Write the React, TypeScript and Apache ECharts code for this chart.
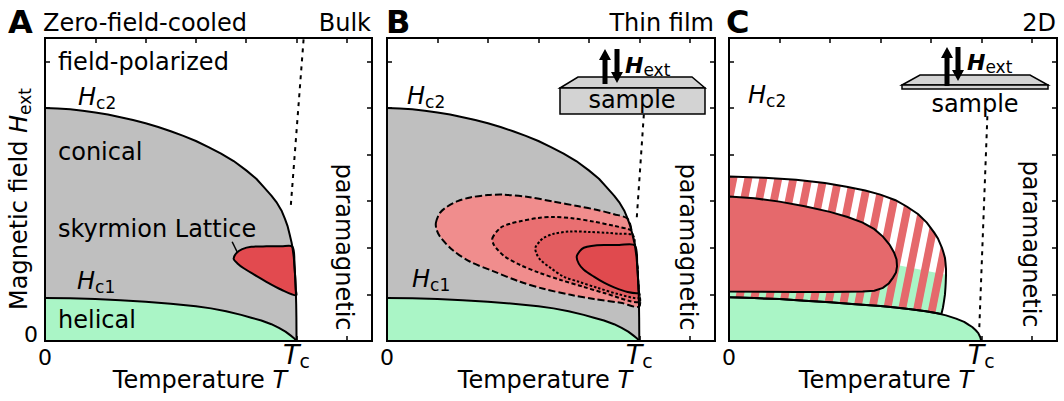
import React, { useEffect, useRef } from "react";
import * as echarts from "echarts";

type Pt = [number, number];

// Reduced units: temperature T with T_c = 5, applied field H on the same scale.
const T_C = 5;
const AXIS_MAX = 6.5;

// Upper critical field H_c2 (bulk and thin film).
const HC2: Pt[] = [
  [0, 5.0], [0.25, 4.99], [0.5, 4.97], [0.75, 4.94], [1, 4.9], [1.25, 4.86], [1.5, 4.8],
  [1.75, 4.74], [2, 4.67], [2.25, 4.59], [2.5, 4.5], [2.75, 4.4], [3, 4.29], [3.25, 4.16],
  [3.5, 4.02], [3.75, 3.86], [4, 3.66], [4.2, 3.48], [4.35, 3.3], [4.5, 3.12], [4.6, 2.98],
  [4.7, 2.8], [4.77, 2.62], [4.82, 2.47], [4.86, 2.3], [4.9, 2.12], [4.92, 2.0],
  [4.945, 1.8], [4.96, 1.6], [4.975, 1.35], [4.985, 1.1], [4.993, 0.8], [4.997, 0.5], [5, 0],
];

// Lower critical field H_c1 (bulk and thin film).
const HC1: Pt[] = [
  [0, 0.92], [0.5, 0.915], [1, 0.9], [1.5, 0.875], [2, 0.84], [2.5, 0.8], [3, 0.745],
  [3.3, 0.7], [3.6, 0.64], [3.9, 0.56], [4.1, 0.5], [4.3, 0.44], [4.5, 0.36], [4.65, 0.28],
  [4.78, 0.2], [4.88, 0.12], [4.95, 0.06], [5, 0],
];

// Skyrmion lattice pocket of the bulk sample.
const SKX_BULK: Pt[] = [
  [3.75, 1.76], [3.8, 1.88], [3.92, 1.97], [4.1, 2.02], [4.4, 2.03], [4.7, 2.03],
  [4.92, 2.02], [4.96, 1.6], [4.985, 1.1], [4.99, 0.98], [4.7, 1.1], [4.4, 1.27],
  [4.15, 1.43], [3.95, 1.56], [3.82, 1.67],
];

// Nested skyrmion stability contours of the thin film, outermost first.
const FILM_SKX_1: Pt[] = [
  [0.97, 2.54], [1.05, 2.75], [1.19, 2.88], [1.4, 3.0], [1.65, 3.08], [2.0, 3.13],
  [2.31, 3.14], [2.8, 3.09], [3.3, 2.99], [3.8, 2.89], [4.17, 2.81], [4.5, 2.72],
  [4.77, 2.62], [4.86, 2.3], [4.92, 2.0], [4.96, 1.6], [4.985, 1.1], [4.997, 0.74],
  [4.63, 0.82], [4.1, 0.9], [3.64, 0.99], [3.1, 1.12], [2.64, 1.27], [2.1, 1.5],
  [1.65, 1.7], [1.3, 1.95], [1.05, 2.24], [0.98, 2.4],
];
const FILM_SKX_2: Pt[] = [
  [2.09, 2.21], [2.25, 2.43], [2.45, 2.52], [2.64, 2.57], [3.0, 2.64], [3.3, 2.66],
  [3.7, 2.63], [4.1, 2.56], [4.5, 2.47], [4.83, 2.38], [4.86, 2.3], [4.92, 2.0],
  [4.96, 1.6], [4.985, 1.1], [4.997, 0.83], [4.3, 1.03], [3.9, 1.16], [3.44, 1.31],
  [3.0, 1.47], [2.64, 1.63], [2.35, 1.8], [2.19, 1.96], [2.11, 2.08],
];
const FILM_SKX_3: Pt[] = [
  [2.94, 2.0], [3.02, 2.13], [3.1, 2.21], [3.3, 2.3], [3.64, 2.35], [4.0, 2.34],
  [4.37, 2.32], [4.6, 2.3], [4.87, 2.27], [4.92, 2.0], [4.96, 1.6], [4.985, 1.1],
  [4.995, 0.92], [4.6, 1.0], [4.17, 1.14], [3.8, 1.27], [3.5, 1.38], [3.25, 1.56],
  [3.04, 1.74], [2.96, 1.88],
];
const FILM_SKX_4: Pt[] = [
  [3.76, 1.81], [3.82, 1.93], [3.9, 2.0], [4.05, 2.04], [4.3, 2.06], [4.6, 2.06],
  [4.91, 2.05], [4.96, 1.6], [4.985, 1.1], [4.99, 1.03], [4.77, 1.05], [4.5, 1.15],
  [4.3, 1.25], [4.1, 1.38], [3.9, 1.53], [3.8, 1.66],
];

// Two-dimensional system.
const HC1_2D: Pt[] = [
  [0, 0.94], [0.5, 0.92], [1, 0.9], [1.5, 0.865], [2, 0.83], [2.5, 0.79], [3, 0.75],
  [3.3, 0.72], [3.6, 0.68], [3.9, 0.64], [4.1, 0.6], [4.3, 0.55], [4.5, 0.48],
  [4.66, 0.41], [4.76, 0.34], [4.82, 0.3], [4.89, 0.23], [4.94, 0.17], [4.98, 0.08], [5, 0],
];
// Mixed (striped) region between H_c1 and its upper edge.
const MIXED_2D: Pt[] = [
  [0, 3.53], [0.7, 3.5], [1.33, 3.46], [1.9, 3.39], [2.33, 3.31], [2.7, 3.23],
  [3.0, 3.14], [3.3, 3.02], [3.53, 2.88], [3.75, 2.72], [3.92, 2.54], [4.07, 2.32],
  [4.14, 2.2], [4.18, 2.1], [4.22, 2.0], [4.25, 1.9], [4.28, 1.78], [4.29, 1.68],
  [4.3, 1.55], [4.3, 1.4], [4.295, 1.25], [4.29, 1.15], [4.28, 1.0], [4.26, 0.85],
  [4.24, 0.72], [4.21, 0.58], [4.1, 0.6], [3.9, 0.64], [3.6, 0.68], [3.3, 0.72],
  [3, 0.75], [2.5, 0.79], [2, 0.83], [1.5, 0.865], [1, 0.9], [0.5, 0.92], [0, 0.94],
];
// Helical background underneath the lower part of the stripes.
const MIXED_2D_HELICAL: Pt[] = [
  [0, 1.63], [3.33, 1.63], [4.3, 1.42], [4.295, 1.25], [4.29, 1.15], [4.28, 1.0],
  [4.26, 0.85], [4.24, 0.72], [4.21, 0.58], [4.1, 0.6], [3.6, 0.68], [3, 0.75],
  [2, 0.83], [1, 0.9], [0, 0.94],
];
const SKX_2D: Pt[] = [
  [0, 3.1], [0.5, 3.06], [1, 2.99], [1.5, 2.89], [2, 2.77], [2.35, 2.66], [2.65, 2.54],
  [2.88, 2.4], [3.05, 2.24], [3.18, 2.07], [3.27, 1.9], [3.32, 1.75], [3.33, 1.6],
  [3.31, 1.47], [3.25, 1.36], [3.17, 1.24], [3.05, 1.14], [2.88, 1.08], [2.65, 1.06],
  [2, 1.05], [1.33, 1.05], [0, 1.06],
];

// Dotted crossover lines to the paramagnet.
const CROSSOVER_BULK: Pt[] = [[5.14, 6.47], [4.88, 2.82]];
const CROSSOVER_FILM: Pt[] = [[5.09, 4.86], [4.95, 2.65]];
const CROSSOVER_2D: Pt[] = [[5.12, 4.82], [4.96, 0.28]];
// Leader line from the skyrmion label to its pocket.
const SKX_POINTER: Pt[] = [[3.72, 2.13], [3.82, 1.91]];

const FONT = '"DejaVu Sans", sans-serif';
const GREY = "#bfbfbf";
const GREEN = "#aaf5c6";
const RED_BULK = "#e24a4f";
const RED_2D = "#e5696c";
const FILM_REDS = ["#f08d8d", "#e96f71", "#e35d60", "#e04a4e"];
const SAMPLE_FILL = "#d3d3d3";

const GRIDS = [
  { left: 45, top: 38, width: 327, height: 303 },
  { left: 387, top: 38, width: 328, height: 303 },
  { left: 729, top: 38, width: 328, height: 303 },
];

function stripeImage(color: string) {
  const w = 15;
  const h = 75;
  const band = 8;
  const c = document.createElement("canvas");
  c.width = w;
  c.height = h;
  const ctx = c.getContext("2d")!;
  ctx.fillStyle = color;
  for (const off of [-w, 0, w]) {
    ctx.beginPath();
    ctx.moveTo(off + w, 0);
    ctx.lineTo(off + w + band, 0);
    ctx.lineTo(off + band, h);
    ctx.lineTo(off, h);
    ctx.closePath();
    ctx.fill();
  }
  return c.toDataURL();
}

const onGrid = (g: number) => ({ xAxisIndex: 2 * g, yAxisIndex: 2 * g });

function areaUnder(g: number, pts: Pt[], color: string, z: number) {
  return {
    type: "line", ...onGrid(g), data: pts, symbol: "none", silent: true, z,
    lineStyle: { width: 0, opacity: 0 },
    areaStyle: { color, opacity: 1 },
  };
}

function curve(g: number, pts: Pt[], z: number, width = 2, type: any = "solid") {
  return {
    type: "line", ...onGrid(g), data: pts, symbol: "none", silent: true, z,
    lineStyle: { color: "#000", width, type },
  };
}

function region(g: number, pts: Pt[], style: any, z: number, smooth = 0) {
  return {
    type: "custom", ...onGrid(g), data: pts, silent: true, z,
    renderItem: (params: any, api: any) =>
      params.dataIndex === 0
        ? { type: "polygon", shape: { points: pts.map((p) => api.coord(p)), smooth }, style }
        : null,
  };
}

function label(x: number, y: number, text: string, opts: any = {}) {
  const { size = 24, align = "left", rotation = 0, weight = "normal", rich } = opts;
  return {
    type: "text", x, y, rotation, z: 60, silent: true,
    style: {
      text, fontSize: size, fontFamily: FONT, fontWeight: weight, fill: "#000",
      align, verticalAlign: "middle", textAlign: align, textVerticalAlign: "middle", rich,
    },
  };
}

const SUB_RICH = {
  m: { fontSize: 24, fontFamily: FONT, fontStyle: "italic", fill: "#000", padding: [0, 0, 2, 0], verticalAlign: "bottom" },
  s: { fontSize: 17, fontFamily: FONT, fill: "#000", verticalAlign: "bottom" },
  a: { fontSize: 24, fontFamily: FONT, fill: "#000", padding: [0, 0, 2, 0], verticalAlign: "bottom" },
  b: { fontSize: 22, fontFamily: FONT, fontStyle: "italic", fontWeight: "bold", fill: "#000", padding: [0, 0, 2, 0], verticalAlign: "bottom" },
};

const field = (x: number, y: number, sub: string) => label(x, y, `{m|H}{s|${sub}}`, { rich: SUB_RICH });
const hExt = (x: number, y: number) => label(x, y, "{b|H}{s|ext}", { rich: SUB_RICH });

function arrow(x: number, yTail: number, yTip: number) {
  const d = yTip < yTail ? -1 : 1;
  const yBase = yTip - d * 11;
  return {
    type: "polygon", z: 58, silent: true,
    shape: {
      points: [
        [x - 2.5, yTail], [x - 2.5, yBase], [x - 6, yBase], [x, yTip],
        [x + 6, yBase], [x + 2.5, yBase], [x + 2.5, yTail],
      ],
    },
    style: { fill: "#000" },
  };
}

function buildOption() {
  const xAxis: any[] = [];
  const yAxis: any[] = [];
  GRIDS.forEach((_, g) => {
    const common = {
      type: "value", gridIndex: g, min: 0, max: AXIS_MAX, interval: 1,
      splitLine: { show: false },
      axisLine: { show: false, onZero: false },
      axisTick: { show: true, inside: true, length: 5, lineStyle: { color: "#000", width: 1.5 } },
    };
    xAxis.push({
      ...common, position: "bottom",
      axisLabel: {
        margin: 0,
        formatter: (v: number) => (v === 0 ? "{n|0}" : v === T_C ? "{t|T}{c|c}" : ""),
        rich: {
          n: { fontSize: 22, fontFamily: FONT, color: "#000", padding: [5, 0, 0, 0], verticalAlign: "bottom" },
          t: { fontSize: 27, fontFamily: FONT, fontStyle: "italic", color: "#000", padding: [0, 0, 2, 0], verticalAlign: "bottom" },
          c: { fontSize: 19, fontFamily: FONT, color: "#000", verticalAlign: "bottom" },
        },
      },
    });
    xAxis.push({ ...common, position: "top", axisLabel: { show: false } });
    yAxis.push({
      ...common, position: "left",
      axisLabel: g === 0
        ? {
            margin: 7,
            formatter: (v: number) => (v === 0 ? "{n|0}" : ""),
            rich: { n: { fontSize: 22, fontFamily: FONT, color: "#000", padding: [0, 0, 14, 0] } },
          }
        : { show: false },
    });
    yAxis.push({ ...common, position: "right", axisLabel: { show: false } });
  });

  const stripes = { image: stripeImage(RED_2D), repeat: "repeat", imageWidth: 15, imageHeight: 75 };
  const dotted = [4, 5];

  const series: any[] = [
    // Bulk
    areaUnder(0, HC2, GREY, 1),
    areaUnder(0, HC1, GREEN, 2),
    region(0, SKX_BULK, { fill: RED_BULK, stroke: "#000", lineWidth: 2 }, 3, 0.3),
    curve(0, HC2, 8),
    curve(0, HC1, 8),
    curve(0, CROSSOVER_BULK, 8, 2, dotted),
    curve(0, SKX_POINTER, 8, 1.5),
    // Thin film
    areaUnder(1, HC2, GREY, 1),
    areaUnder(1, HC1, GREEN, 2),
    region(1, FILM_SKX_1, { fill: FILM_REDS[0], stroke: "#000", lineWidth: 2, lineDash: [7, 3] }, 3, 0.3),
    region(1, FILM_SKX_2, { fill: FILM_REDS[1], stroke: "#000", lineWidth: 2, lineDash: [4, 2.5] }, 4, 0.3),
    region(1, FILM_SKX_3, { fill: FILM_REDS[2], stroke: "#000", lineWidth: 2, lineDash: [2.5, 2] }, 5, 0.3),
    region(1, FILM_SKX_4, { fill: FILM_REDS[3], stroke: "#000", lineWidth: 2 }, 6, 0.3),
    curve(1, HC2, 8),
    curve(1, HC1, 8),
    curve(1, CROSSOVER_FILM, 8, 2, dotted),
    // 2D
    areaUnder(2, HC1_2D, GREEN, 1),
    region(2, MIXED_2D_HELICAL, { fill: GREEN }, 2),
    region(2, MIXED_2D, { fill: stripes, stroke: "#000", lineWidth: 2 }, 3),
    region(2, SKX_2D, { fill: RED_2D, stroke: "#000", lineWidth: 2 }, 4),
    curve(2, HC1_2D, 8),
    curve(2, CROSSOVER_2D, 8, 2, dotted),
  ];

  const frames = GRIDS.map((g) => ({
    type: "rect", z: 50, silent: true,
    shape: { x: g.left, y: g.top, width: g.width, height: g.height },
    style: { fill: "none", stroke: "#000", lineWidth: 2 },
  }));

  const vertical = -Math.PI / 2;
  const graphic: any[] = [
    ...frames,
    // headers
    label(8, 22, "A", { size: 32, weight: "bold" }),
    label(43, 23, "Zero-field-cooled"),
    label(371, 23, "Bulk", { align: "right" }),
    label(386, 22, "B", { size: 32, weight: "bold" }),
    label(714, 23, "Thin film", { align: "right" }),
    label(726, 22, "C", { size: 32, weight: "bold" }),
    label(1056, 23, "2D", { align: "right" }),
    // axis titles
    label(20, 199, "{a|Magnetic field }{m|H}{s|ext}", { align: "center", rotation: Math.PI / 2, rich: SUB_RICH }),
    label(200, 381, "{a|Temperature }{m|T}", { align: "center", rich: SUB_RICH }),
    label(545, 381, "{a|Temperature }{m|T}", { align: "center", rich: SUB_RICH }),
    label(886, 381, "{a|Temperature }{m|T}", { align: "center", rich: SUB_RICH }),
    // phase names, bulk
    label(58, 62, "field-polarized"),
    label(58, 152, "conical"),
    label(58, 229, "skyrmion Lattice"),
    label(58, 320, "helical"),
    field(78, 98, "c2"),
    field(77, 282, "c1"),
    label(344, 247, "paramagnetic", { align: "center", rotation: vertical }),
    // thin film
    field(407, 97, "c2"),
    field(412, 280, "c1"),
    label(688, 247, "paramagnetic", { align: "center", rotation: vertical }),
    {
      type: "polygon", z: 55, silent: true,
      shape: { points: [[560, 88], [578, 77], [692, 77], [705, 88]] },
      style: { fill: SAMPLE_FILL, stroke: "#000", lineWidth: 1.5 },
    },
    {
      type: "rect", z: 55, silent: true,
      shape: { x: 560, y: 88, width: 145, height: 26 },
      style: { fill: SAMPLE_FILL, stroke: "#000", lineWidth: 1.5 },
    },
    label(632, 100, "sample", { align: "center" }),
    arrow(605, 84, 49),
    arrow(617, 49, 83),
    hExt(625, 66),
    // 2D
    field(748, 96, "c2"),
    label(1031, 244, "paramagnetic", { align: "center", rotation: vertical }),
    {
      type: "polygon", z: 55, silent: true,
      shape: { points: [[902, 85], [920, 75], [1030, 75], [1048, 85]] },
      style: { fill: SAMPLE_FILL, stroke: "#000", lineWidth: 1.5 },
    },
    {
      type: "rect", z: 55, silent: true,
      shape: { x: 902, y: 85, width: 146, height: 4 },
      style: { fill: SAMPLE_FILL, stroke: "#000", lineWidth: 1.5 },
    },
    label(975, 104, "sample", { align: "center" }),
    arrow(947, 86, 47),
    arrow(958, 47, 81),
    hExt(967, 63),
  ];

  return {
    animation: false,
    backgroundColor: "#fff",
    textStyle: { fontFamily: FONT },
    grid: GRIDS.map((g) => ({ ...g, containLabel: false })),
    xAxis,
    yAxis,
    series,
    graphic: { elements: graphic },
  };
}

export default function App() {
  const ref = useRef<HTMLDivElement>(null);
  useEffect(() => {
    const chart = echarts.init(ref.current!, null, { renderer: "svg" });
    chart.setOption(buildOption() as any);
    return () => chart.dispose();
  }, []);
  return (
    <div
      ref={ref}
      style={{ position: "absolute", left: 0, top: 0, width: 1064, height: 401 }}
    />
  );
}
